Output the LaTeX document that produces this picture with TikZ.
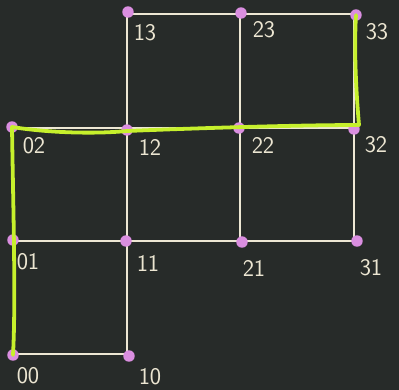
\documentclass[tikz,border=0pt]{standalone}
\usepackage{tikz}
\usetikzlibrary{positioning,backgrounds}
\definecolor{cBoard}{HTML}{272B29}
\definecolor{cGrid}{HTML}{EDE7D3}
\definecolor{cDot}{HTML}{DA8EE0}
\definecolor{cPath}{HTML}{C6F02C}
\definecolor{cLabel}{HTML}{ECE6D2}
\tikzset{
  dot/.style  ={circle, fill=cDot, inner sep=0pt, minimum size=11.5pt},
  edge/.style ={draw=cGrid, line width=1.6pt},
  route/.style={draw=cPath, line width=3.8pt, line cap=round, line join=round},
  lbl/.style  ={text=cLabel, font=\sffamily\fontsize{24}{24}\selectfont, inner sep=0pt},
}
\begin{document}
\begin{tikzpicture}[x=1bp, y=-1bp]
\useasboundingbox (0,0) rectangle (399,390);

% lattice points
\node[dot] (p00) at (13,355) {};
\node[dot] (p10) at (129,356) {};
\node[dot] (p01) at (13,240) {};
\node[dot] (p11) at (126,241) {};
\node[dot] (p21) at (242,242) {};
\node[dot] (p31) at (357,241) {};
\node[dot] (p02) at (12,127) {};
\node[dot] (p12) at (127,130) {};
\node[dot] (p22) at (239,128) {};
\node[dot] (p32) at (354,129) {};
\node[dot] (p13) at (128,12) {};
\node[dot] (p23) at (241,13) {};
\node[dot] (p33) at (356,15) {};

% coordinate labels
\node[lbl] at (28,376) {00};
\node[lbl] at (150,377) {10};
\node[lbl] at (28,262) {01};
\node[lbl] at (148,263) {11};
\node[lbl] at (254,268) {21};
\node[lbl] at (371,268) {31};
\node[lbl] at (34,146) {02};
\node[lbl] at (150,147) {12};
\node[lbl] at (263,145) {22};
\node[lbl] at (376,145) {32};
\node[lbl] at (145,33) {13};
\node[lbl] at (264,30) {23};
\node[lbl] at (377,32) {33};

% board and grid lines
\begin{scope}[on background layer]
\fill[cBoard] (0,0) rectangle (399,390);
\draw[edge] (14,354) -- (127,354) -- (127,14) -- (354,14) -- (354,241) -- (14,241) -- cycle;
\draw[edge] (14,128) -- (354,128);
\draw[edge] (240,14) -- (240,241);
\end{scope}

% chosen route
\coordinate[above right=4bp and 5bp of p32.center] (turn);
\draw[route] (p00.center) .. controls (16,300) and (13,200) .. (p02.center)
  .. controls (50,133) and (95,134) .. ([yshift=-1bp]p12.center)
  .. controls (200,128) and (300,125) .. (turn)
  .. controls (356,90) and (354,50) .. (p33.center);
\end{tikzpicture}
\end{document}
